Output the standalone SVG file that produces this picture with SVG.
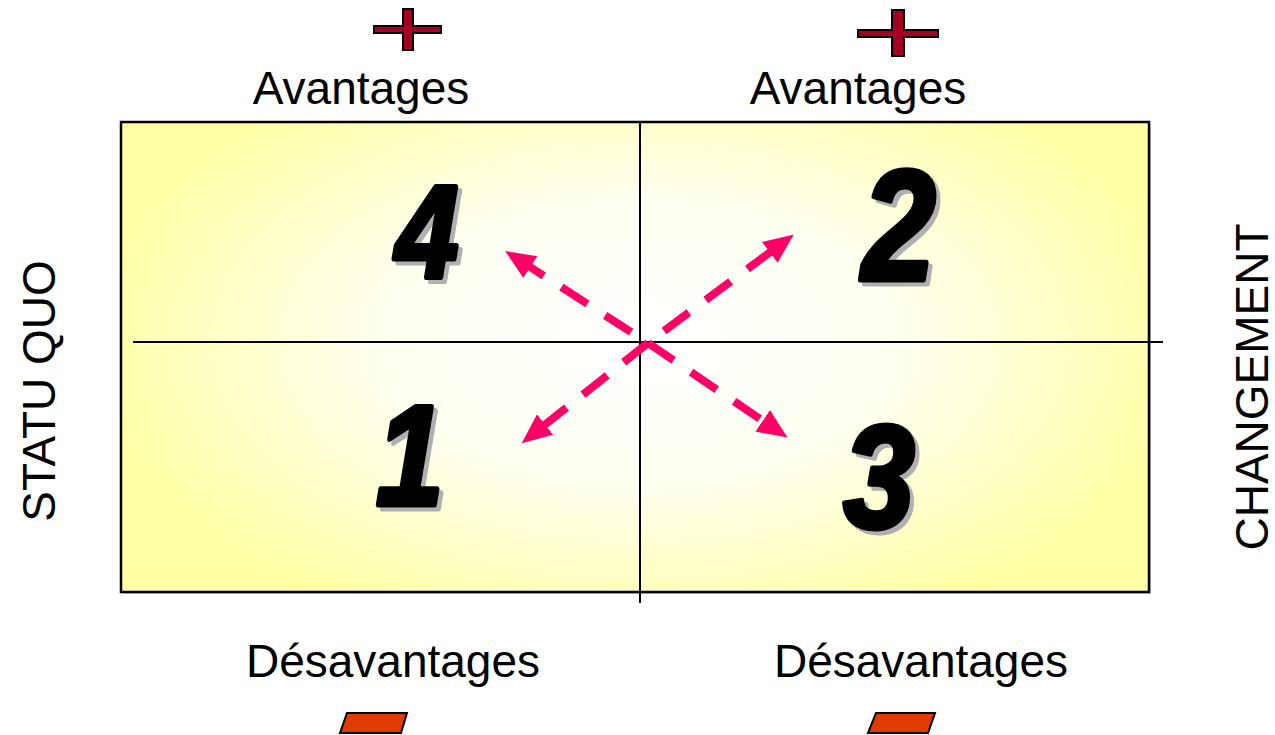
<svg xmlns="http://www.w3.org/2000/svg" width="1275" height="735" viewBox="0 0 1275 735">
<style>
.lbl{font-family:"Liberation Sans",Arial,sans-serif;font-size:46px;fill:#000}
.num{font-family:"Liberation Sans",Arial,sans-serif;font-weight:bold;font-style:italic;fill:#000;stroke:#000;stroke-width:5;stroke-linejoin:round;text-anchor:middle}
.shadow{fill:#b0b0b0;stroke:#b0b0b0}
.axis{stroke:#000;stroke-width:2;fill:none}
.arrow{stroke:#ff0066;stroke-width:8;fill:none;stroke-dasharray:31 21}
.plus{fill:#a50021;stroke:#000;stroke-width:2}
.minus{fill:#e03c00;stroke:#000;stroke-width:2}
</style>
<defs>
<radialGradient id="bg" gradientUnits="userSpaceOnUse" cx="640" cy="342" r="560" gradientTransform="translate(640 342) scale(1 0.55) translate(-640 -342)">
<stop offset="0" stop-color="#ffffff"/>
<stop offset="0.45" stop-color="#fffff2"/>
<stop offset="1" stop-color="#ffffa4"/>
</radialGradient>
<marker id="ah" markerUnits="userSpaceOnUse" markerWidth="30" markerHeight="30" viewBox="0 0 30 30" refX="4" refY="15" orient="auto">
<path d="M0,2 L30,15 L0,28 Z" fill="#ff0066"/>
</marker>
</defs>
<rect width="1275" height="735" fill="#fff"/>
<g id="frame">
<rect x="123" y="124" width="1028" height="470" fill="#c8c8c8"/>
<rect x="121" y="122" width="1028" height="470" fill="url(#bg)" stroke="#000" stroke-width="2.5"/>
<line class="axis" x1="133" y1="342" x2="1163" y2="342"/>
<line class="axis" x1="640" y1="122" x2="640" y2="603"/>
</g>
<g id="numbers">
<text class="num shadow" transform="translate(431 281) scale(0.86 1)" font-size="132">4</text>
<text class="num" transform="translate(427 277) scale(0.86 1)" font-size="132">4</text>
<text class="num shadow" transform="translate(903 284) scale(0.84 1)" font-size="158">2</text>
<text class="num" transform="translate(899 280) scale(0.84 1)" font-size="158">2</text>
<text class="num shadow" transform="translate(414 509) scale(0.86 1)" font-size="142">1</text>
<text class="num" transform="translate(410 505) scale(0.86 1)" font-size="142">1</text>
<text class="num shadow" transform="translate(883 532) scale(0.88 1)" font-size="146">3</text>
<text class="num" transform="translate(879 528) scale(0.88 1)" font-size="146">3</text>
</g>
<g id="connectors">
<line class="arrow" x1="648" y1="343" x2="527" y2="265" stroke-dashoffset="-20" marker-end="url(#ah)"/>
<line class="arrow" x1="648" y1="343" x2="773" y2="250" stroke-dashoffset="-20" marker-end="url(#ah)"/>
<line class="arrow" x1="648" y1="343" x2="542" y2="427" marker-end="url(#ah)"/>
<line class="arrow" x1="648" y1="343" x2="766" y2="423" marker-end="url(#ah)"/>
</g>
<g id="plus-left">
<path class="plus" d="M374,26 H403 V9 H413 V26 H441 V33 H413 V50 H403 V33 H374 Z"/>
</g>
<g id="plus-right">
<path class="plus" d="M858,30 H892 V10 H904 V30 H938 V37 H904 V56 H892 V37 H858 Z"/>
</g>
<g id="labels-top">
<text class="lbl" x="361" y="104" text-anchor="middle">Avantages</text>
<text class="lbl" x="858" y="104" text-anchor="middle">Avantages</text>
</g>
<g id="labels-bottom">
<text class="lbl" x="393" y="677" text-anchor="middle">Désavantages</text>
<text class="lbl" x="921" y="677" text-anchor="middle">Désavantages</text>
</g>
<g id="minus-left">
<path class="minus" d="M347,713 H407 L401,733 H340 Z"/>
</g>
<g id="minus-right">
<path class="minus" d="M876,713 H935 L928,733 H868 Z"/>
</g>
<g id="side-labels">
<text class="lbl" transform="translate(55 391) rotate(-90)" text-anchor="middle" font-size="47">STATU QUO</text>
<text class="lbl" transform="translate(1268 387) rotate(-90)" text-anchor="middle">CHANGEMENT</text>
</g>
</svg>
